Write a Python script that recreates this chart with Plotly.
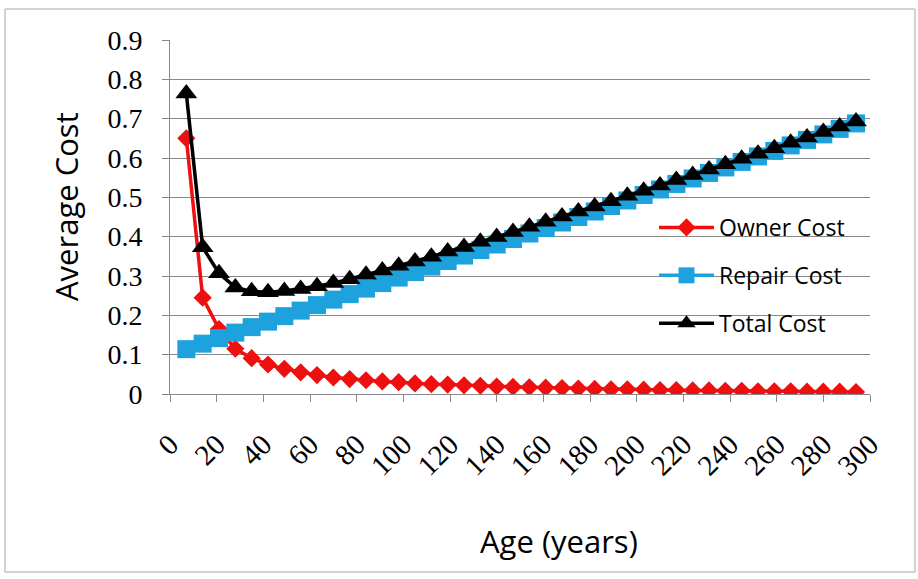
import plotly.graph_objects as go

# Age of the asset (years) at which each average cost was evaluated
ages = [7, 14, 21, 28, 35, 42, 49, 56, 63, 70, 77, 84, 91, 98, 105, 112, 119, 126,
        133, 140, 147, 154, 161, 168, 175, 182, 189, 196, 203, 210, 217, 224, 231,
        238, 245, 252, 259, 266, 273, 280, 287, 294]

owner_cost = [0.650, 0.245, 0.165, 0.115, 0.091, 0.075, 0.064, 0.055, 0.048, 0.042,
              0.038, 0.035, 0.032, 0.030, 0.027, 0.025, 0.024, 0.022, 0.021, 0.019,
              0.018, 0.017, 0.016, 0.015, 0.014, 0.013, 0.012, 0.012, 0.011, 0.010,
              0.010, 0.009, 0.009, 0.008, 0.008, 0.007, 0.007, 0.007, 0.006, 0.006,
              0.006, 0.005]

repair_cost = [0.114, 0.128, 0.142, 0.156, 0.170, 0.184, 0.198, 0.212, 0.226, 0.240,
               0.254, 0.268, 0.282, 0.296, 0.310, 0.324, 0.338, 0.352, 0.366, 0.380,
               0.394, 0.408, 0.422, 0.436, 0.450, 0.464, 0.478, 0.492, 0.506, 0.520,
               0.534, 0.548, 0.562, 0.576, 0.590, 0.604, 0.618, 0.632, 0.646, 0.660,
               0.674, 0.688]

total_cost = [0.764, 0.373, 0.307, 0.271, 0.261, 0.259, 0.262, 0.267, 0.274, 0.282,
              0.292, 0.303, 0.314, 0.326, 0.337, 0.349, 0.362, 0.374, 0.387, 0.399,
              0.412, 0.425, 0.438, 0.451, 0.464, 0.477, 0.490, 0.504, 0.517, 0.530,
              0.544, 0.557, 0.571, 0.584, 0.598, 0.611, 0.625, 0.639, 0.652, 0.666,
              0.680, 0.693]

x_ticks = list(range(0, 301, 20))
y_ticks = [0, 0.1, 0.2, 0.3, 0.4, 0.5, 0.6, 0.7, 0.8, 0.9]
y_tick_text = ["0", "0.1", "0.2", "0.3", "0.4", "0.5", "0.6", "0.7", "0.8", "0.9"]

RED = "#EE1010"
BLUE = "#1EA2DE"
BLACK = "#000000"
GRID = "#888888"

fig = go.Figure()
fig.add_trace(go.Scatter(
    x=ages, y=owner_cost, name="Owner Cost", legendgroup="owner",
    mode="lines+markers",
    line=dict(color=RED, width=3.5),
    marker=dict(symbol="diamond", size=14, color=RED),
))
fig.add_trace(go.Scatter(
    x=ages, y=repair_cost, name="Repair Cost", legendgroup="repair",
    mode="lines+markers",
    line=dict(color=BLUE, width=3.5),
    marker=dict(symbol="square", size=18, color=BLUE),
))
fig.add_trace(go.Scatter(
    x=ages, y=total_cost, name="Total Cost", legendgroup="total",
    mode="lines+markers",
    line=dict(color=BLACK, width=3.5),
    marker=dict(symbol="triangle-up", size=19, color=BLACK),
))

# plot area: x 170..870 px, y 40..394 px
L, R, T, B = 170, 48, 40, 185
W = 918 - L - R
H = 579 - T - B


def px_x(px):
    return (px - L) / W


def px_y(py):
    return (T + H - py) / H


fig.update_layout(
    width=918, height=579,
    margin=dict(l=L, r=R, t=T, b=B),
    paper_bgcolor="white", plot_bgcolor="white",
    showlegend=True,
    legend=dict(
        x=px_x(654), y=px_y(206), xanchor="left", yanchor="top",
        bgcolor="rgba(0,0,0,0)",
        font=dict(family="Open Sans", size=23, color="#000000"),
        itemwidth=55, tracegroupgap=15,
    ),
    xaxis=dict(
        range=[0, 300], tickmode="array", tickvals=x_ticks,
        ticktext=[str(v) for v in x_ticks], tickangle=-45,
        showgrid=False, zeroline=False,
        showline=True, linecolor=GRID, linewidth=1,
        ticks="outside", ticklen=7, tickcolor=GRID,
        tickfont=dict(family="Liberation Serif", size=29, color="#000000"),
        ticklabelstandoff=14,
    ),
    yaxis=dict(
        range=[0, 0.9], tickmode="array", tickvals=y_ticks, ticktext=y_tick_text,
        showgrid=True, gridcolor=GRID, gridwidth=1, zeroline=False,
        showline=True, linecolor=GRID, linewidth=1,
        ticks="outside", ticklen=7, tickcolor=GRID,
        tickfont=dict(family="Liberation Serif", size=28, color="#000000"),
        ticklabelstandoff=14,
    ),
    annotations=[
        dict(text="Average Cost", textangle=-90, showarrow=False,
             xref="paper", yref="paper", x=px_x(66), y=px_y(207),
             xanchor="center", yanchor="middle",
             font=dict(family="Open Sans", size=31, color="#000000")),
        dict(text="Age (years)", showarrow=False,
             xref="paper", yref="paper", x=px_x(559), y=px_y(541),
             xanchor="center", yanchor="middle",
             font=dict(family="Open Sans", size=31, color="#000000")),
    ],
    shapes=[
        dict(type="rect", xref="paper", yref="paper",
             x0=px_x(5), x1=px_x(915), y0=px_y(572), y1=px_y(9),
             line=dict(color="#A8A8A8", width=1), fillcolor="rgba(0,0,0,0)",
             layer="below"),
    ],
)

fig.write_html("out.html")
